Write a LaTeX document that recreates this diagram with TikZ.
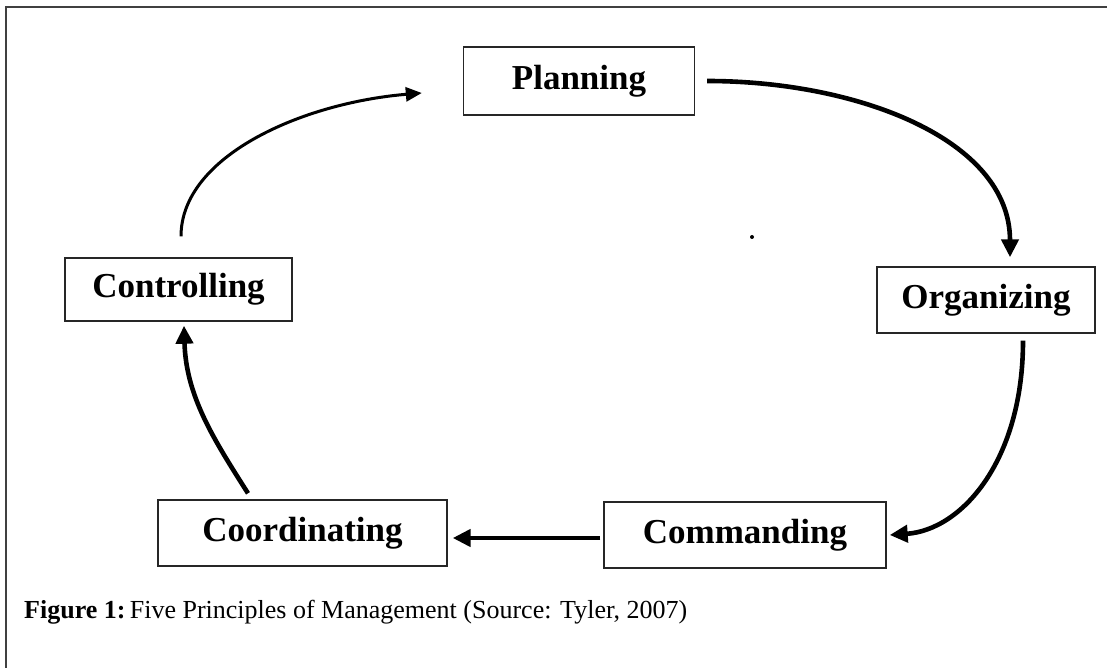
\documentclass[tikz,border=0pt]{standalone}
\usepackage{fontspec}
\setmainfont{Liberation Serif}
\usetikzlibrary{arrows.meta}
\begin{document}
\begin{tikzpicture}[x=1pt,y=-1pt,
  stagebox/.style={draw=black!85,line width=1.4pt,inner sep=0pt,font=\fontsize{35}{40}\selectfont\bfseries},
  bigarrow/.style={line width=4.6pt,-{Triangle[length=18pt,width=17pt]}},
  thinarrow/.style={line width=3pt,-{Triangle[length=16pt,width=14pt]}}]
\useasboundingbox (0,0) rectangle (1107,668);
\draw[line width=2.4pt,black!75] (6,668) -- (6,7) -- (1107,7);
\node[stagebox,minimum width=231pt,minimum height=68pt] (plan) at (579,81) {Planning};
\node[stagebox,minimum width=218pt,minimum height=66pt] (org) at (986,300) {Organizing};
\node[stagebox,minimum width=227pt,minimum height=63pt] (ctrl) at (178.5,289.5) {Controlling};
\node[stagebox,minimum width=289pt,minimum height=66pt] (coord) at (302.5,533) {Coordinating};
\node[stagebox,minimum width=282pt,minimum height=66pt] (comm) at (745,535) {Commanding};
\draw[bigarrow] ([xshift=12pt]plan.east) .. controls +(150,0) and +(0,-118) .. ([xshift=24pt,yshift=9pt]org.north);
\draw[bigarrow] ([xshift=37pt,yshift=-7pt]org.south) .. controls +(0,120) and +(72,-5) .. ([xshift=3pt]comm.east);
\draw[bigarrow] ([xshift=-3pt,yshift=-3pt]comm.west) -- ([xshift=5pt,yshift=-5pt]coord.east);
\draw[bigarrow] ([xshift=-54.5pt,yshift=6pt]coord.north) .. controls +(-35,-55) and +(2,70) .. ([xshift=5.5pt,yshift=-4pt]ctrl.south);
\draw[thinarrow] ([xshift=2.5pt,yshift=21pt]ctrl.north) .. controls +(0,-80) and +(-120,10) .. ([xshift=-41pt,yshift=-12pt]plan.west);
\fill (752,237) circle (2pt);
\node[anchor=base west,inner sep=0pt,font=\fontsize{26}{30}\selectfont] (cap) at (24,618) {\textbf{Figure 1:}\,Five Principles of Management (Source: Tyler, 2007)};
\end{tikzpicture}
\end{document}
